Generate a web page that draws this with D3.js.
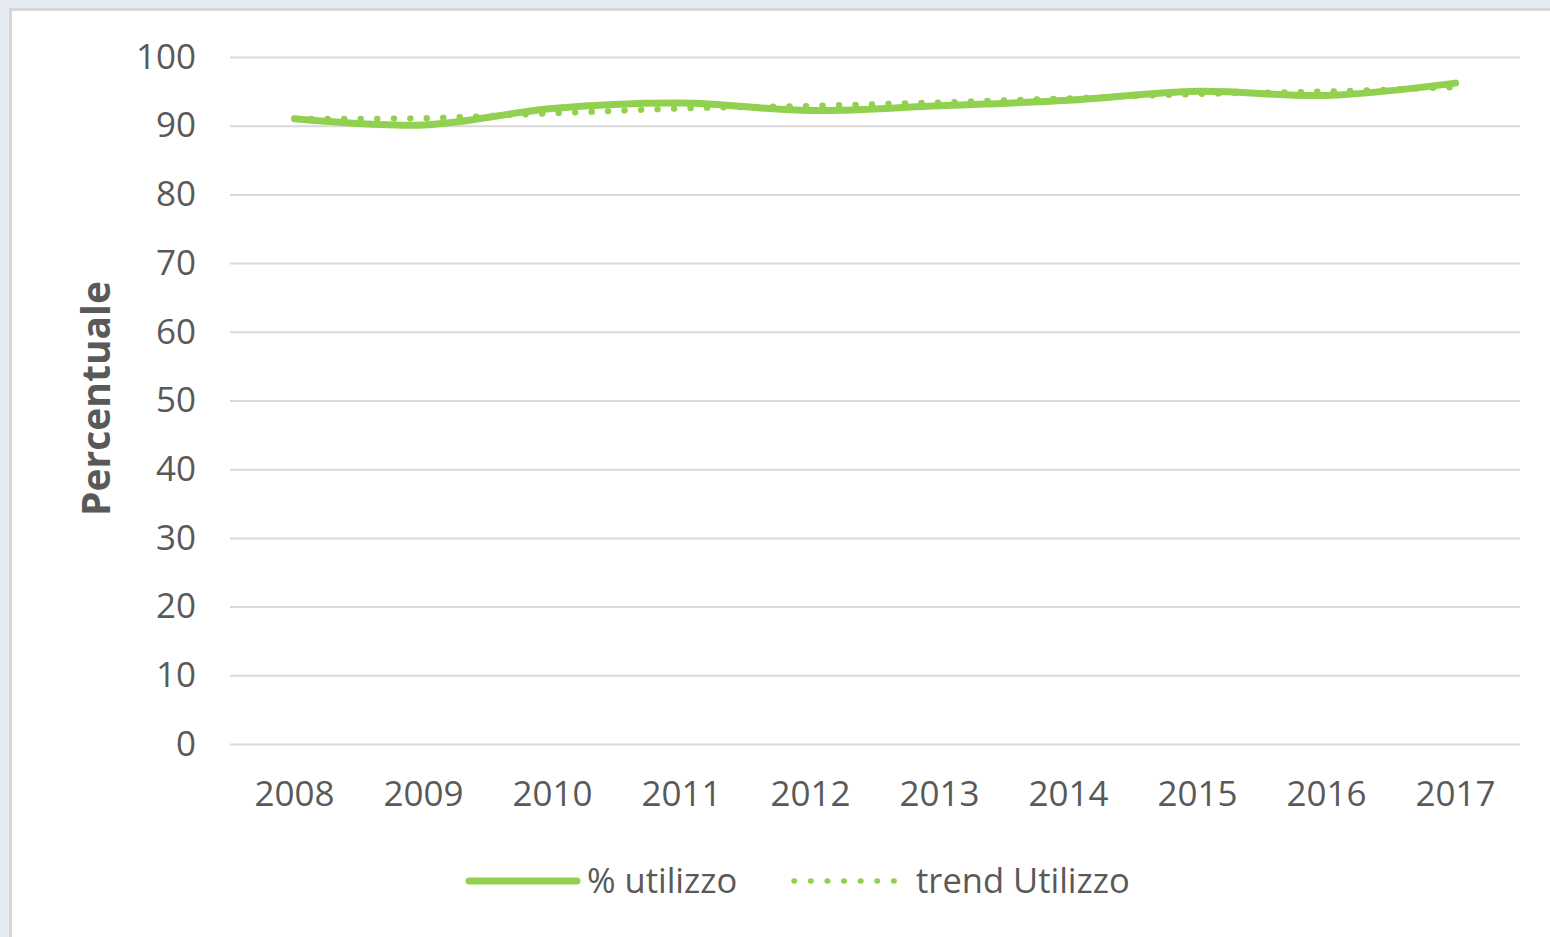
<!DOCTYPE html>
<html>
<head>
<meta charset="utf-8">
<script src="https://cdn.jsdelivr.net/npm/d3@7"></script>
<style>
  html, body { margin: 0; padding: 0; background: #e6eaf1; }
  svg { display: block; }
</style>
</head>
<body>
<svg id="chart" width="1550" height="937"></svg>
<script>
const years = ["2008","2009","2010","2011","2012","2013","2014","2015","2016","2017"];
const utilizzo = [91.0, 90.1, 92.5, 93.3, 92.2, 92.9, 93.7, 95.0, 94.4, 96.2];
const trendUtilizzo = [91.0, 91.1, 91.8, 92.5, 92.9, 93.4, 94.0, 94.6, 95.0, 95.6];
const yTicks = [0, 10, 20, 30, 40, 50, 60, 70, 80, 90, 100];
const seriesNames = ["% utilizzo", "trend Utilizzo"];

const green = "#92d050";
const textColor = "#595959";
const font = "'Open Sans', 'Liberation Sans', sans-serif";

const svg = d3.select("#chart");

// background panel
svg.append("rect").attr("x", 0).attr("y", 0).attr("width", 1550).attr("height", 937).attr("fill", "#e6eaf1");
svg.append("rect").attr("x", 10.5).attr("y", 9.5).attr("width", 1600).attr("height", 1000)
  .attr("fill", "#ffffff").attr("stroke", "#d6d6d6").attr("stroke-width", 3);

const plot = { left: 230, right: 1520, top: 57, bottom: 744 };

const x = d3.scaleBand().domain(years).range([plot.left, plot.right]);
const y = d3.scaleLinear().domain([0, 100]).range([plot.bottom, plot.top]);

// gridlines
const yAxis = d3.axisLeft(y).tickValues(yTicks).tickSize(-(plot.right - plot.left)).tickPadding(34);
const gy = svg.append("g").attr("transform", `translate(${plot.left},0)`).call(yAxis);
gy.select(".domain").remove();
gy.selectAll(".tick line").attr("stroke", "#d9d9d9").attr("stroke-width", 2);
gy.selectAll(".tick text").attr("fill", textColor).style("font-family", font).style("font-size", "35px");

// x axis labels
const xAxis = d3.axisBottom(x).tickSize(0).tickPadding(37);
const gx = svg.append("g").attr("transform", `translate(0,${plot.bottom})`).call(xAxis);
gx.select(".domain").remove();
gx.selectAll(".tick text").attr("fill", textColor).style("font-family", font).style("font-size", "35px");

// axis title
svg.append("text")
  .attr("transform", `translate(110,${(plot.top + plot.bottom) / 2 - 2}) rotate(-90)`)
  .attr("text-anchor", "middle")
  .attr("fill", textColor)
  .style("font-family", font).style("font-weight", "bold").style("font-size", "39px")
  .text("Percentuale");

const cx = d => x(d) + x.bandwidth() / 2;
const line = d3.line().x((d, i) => cx(years[i])).y(d => y(d)).curve(d3.curveCatmullRom.alpha(0.5));

// series lines
svg.append("path").datum(utilizzo).attr("d", line)
  .attr("fill", "none").attr("stroke", green).attr("stroke-width", 7)
  .attr("stroke-linecap", "round").attr("stroke-linejoin", "round");

svg.append("path").datum(trendUtilizzo).attr("d", line)
  .attr("fill", "none").attr("stroke", green).attr("stroke-width", 6)
  .attr("stroke-linecap", "round").attr("stroke-dasharray", "0.5 16");

// legend
const legY = 881;
const leg = svg.append("g");
leg.append("line").attr("x1", 469).attr("x2", 577).attr("y1", legY).attr("y2", legY)
  .attr("stroke", green).attr("stroke-width", 7).attr("stroke-linecap", "round");
leg.append("text").attr("x", 587).attr("y", legY).attr("dy", "0.35em")
  .attr("fill", textColor).style("font-family", font).style("font-size", "34.5px").text(seriesNames[0]);
leg.append("line").attr("x1", 794).attr("x2", 898).attr("y1", legY).attr("y2", legY)
  .attr("stroke", green).attr("stroke-width", 5.5).attr("stroke-linecap", "round").attr("stroke-dasharray", "0.5 16.1");
leg.append("text").attr("x", 916).attr("y", legY).attr("dy", "0.35em")
  .attr("fill", textColor).style("font-family", font).style("font-size", "34.5px").text(seriesNames[1]);
</script>
</body>
</html>
